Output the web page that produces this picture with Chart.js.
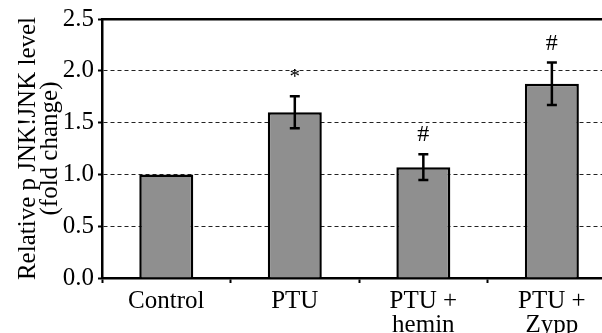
<!DOCTYPE html>
<html>
<head>
<meta charset="utf-8">
<script src="https://cdn.jsdelivr.net/npm/chart.js@4/dist/chart.umd.min.js"></script>
<style>
  html, body { margin: 0; padding: 0; background: #fff; }
  #wrap { width: 602px; height: 333px; }
</style>
</head>
<body>
<div id="wrap"><canvas id="bar_chart" width="602" height="333"></canvas></div>
<script>
// data
var groups = [["Control"], ["PTU"], ["PTU +", "hemin"], ["PTU +", "Zypp"]];
var foldChange = [1.0, 1.60, 1.07, 1.875];
var errSize = [0, 0.155, 0.125, 0.205];
var marks = ["", "*", "#", "#"];
var yTicks = [0, 0.5, 1.0, 1.5, 2.0, 2.5];

var serif = "'Liberation Serif', 'Times New Roman', serif";

// error bars + significance marks
var errorBars = {
    id: 'errorBars',
    afterDatasetsDraw: function (chart) {
        var ctx = chart.ctx;
        var x = chart.scales.x;
        var y = chart.scales.y;
        ctx.save();
        ctx.strokeStyle = '#000';
        ctx.lineWidth = 2.5;
        for (var i = 0; i < foldChange.length; i++) {
            var cx = x.getPixelForValue(i);
            if (errSize[i] > 0) {
                var top = y.getPixelForValue(foldChange[i] + errSize[i]);
                var bot = y.getPixelForValue(foldChange[i] - errSize[i]);
                ctx.beginPath();
                ctx.moveTo(cx, top); ctx.lineTo(cx, bot);
                ctx.moveTo(cx - 5, top); ctx.lineTo(cx + 5, top);
                ctx.moveTo(cx - 5, bot); ctx.lineTo(cx + 5, bot);
                ctx.stroke();
            }
            if (marks[i]) {
                var my = y.getPixelForValue(foldChange[i] + errSize[i]);
                ctx.fillStyle = '#000';
                ctx.textAlign = 'center';
                ctx.textBaseline = 'bottom';
                ctx.font = (marks[i] == '*' ? '21px ' : '24px ') + serif;
                ctx.fillText(marks[i], cx, my - (marks[i] == '*' ? 8 : 7));
            }
        }
        ctx.restore();
    }
};

var ctx = document.getElementById("bar_chart");
var myChart = new Chart(ctx, {
    type: 'bar',
    data: {
        labels: groups,
        datasets: [{
            data: foldChange,
            backgroundColor: '#8f8f8f',
            borderColor: '#000',
            borderWidth: 2.5,
            borderSkipped: 'start',
            barPercentage: 1,
            categoryPercentage: 0.42
        }]
    },
    options: {
        responsive: false,
        animation: false,
        layout: { padding: { top: 17, left: 0, right: 0, bottom: 0 } },
        plugins: {
            legend: { display: false },
            tooltip: { enabled: false }
        },
        scales: {
            x: {
                offset: true,
                afterBuildTicks: function (s) {
                    // category spacing is a bit wider than the plot (last bar sits near the edge)
                    s._valueRange = 3.89;
                },
                afterFit: function (s) { s.height = 55; },
                grid: {
                    offset: true,
                    drawOnChartArea: false,
                    drawTicks: true,
                    tickLength: 5,
                    tickWidth: 2,
                    tickColor: '#000'
                },
                border: { display: true, color: '#000', width: 2.5 },
                ticks: {
                    color: '#000',
                    padding: 7,
                    maxRotation: 0,
                    autoSkip: false,
                    font: { family: serif, size: 25, lineHeight: 0.95 }
                }
            },
            x2: {
                position: 'top',
                labels: groups,
                afterFit: function (s) { s.height = 0; },
                grid: { display: false, drawTicks: false },
                ticks: { display: false },
                border: { display: true, color: '#000', width: 2.5 }
            },
            y: {
                min: 0,
                max: 2.5,
                afterFit: function (s) { s.width = 102; },
                afterBuildTicks: function (s) {
                    s.ticks = yTicks.map(function (v) { return { value: v }; });
                },
                grid: {
                    color: function (c) {
                        return (c.tick && (c.tick.value == 0 || c.tick.value == 2.5)) ? 'rgba(0,0,0,0)' : '#222';
                    },
                    lineWidth: 1,
                    tickLength: 4,
                    tickColor: '#000',
                    tickWidth: 2
                },
                border: { display: true, color: '#000', width: 2.5, dash: [4, 3] },
                ticks: {
                    color: '#000',
                    padding: 4,
                    font: { family: serif, size: 25 },
                    callback: function (v) { return Number(v).toFixed(1); }
                },
                title: {
                    display: true,
                    text: ['Relative p JNK!JNK level', '(fold change)'],
                    color: '#000',
                    padding: { top: 17, bottom: 0 },
                    font: { family: serif, size: 25, lineHeight: 0.9 }
                }
            }
        }
    },
    plugins: [errorBars]
});
</script>
</body>
</html>
